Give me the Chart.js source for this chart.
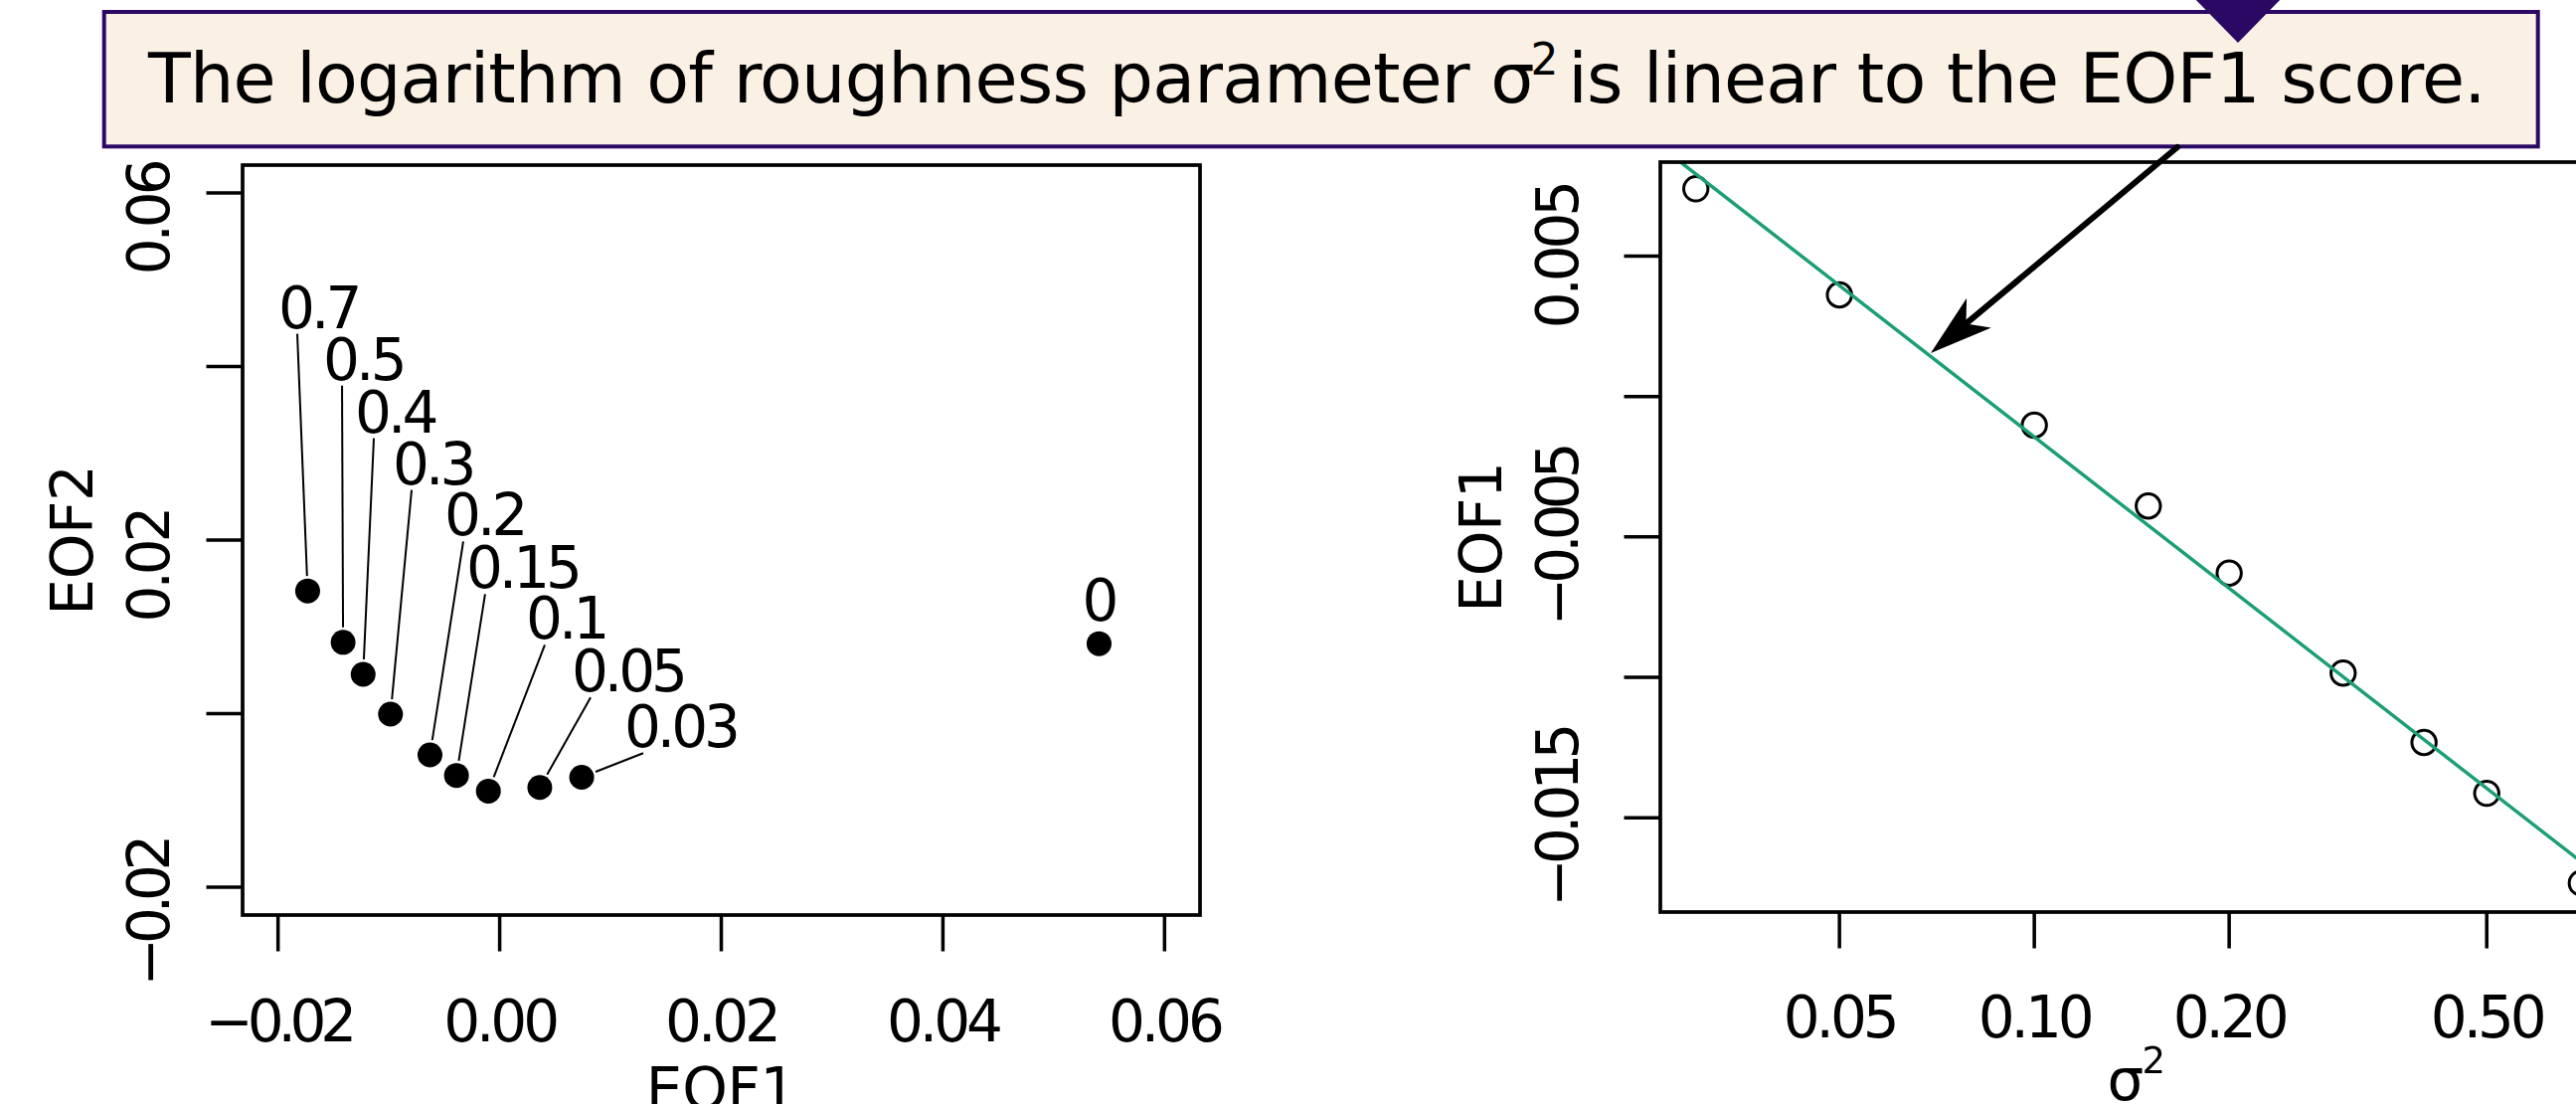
<!DOCTYPE html>
<html>
<head>
<meta charset="utf-8">
<script src="https://cdn.jsdelivr.net/npm/chart.js@4.4.1/dist/chart.umd.min.js"></script>
<style>
  html, body { margin: 0; padding: 0; background: #ffffff; overflow: hidden; width: 2591px; height: 1110px; }
  #left { position: absolute; left: 0; top: 0; }
  #right { position: absolute; left: 1300px; top: 0; }
  #overlay { position: absolute; left: 0; top: 0; pointer-events: none; }
</style>
</head>
<body>
<canvas id="left" width="1300" height="1110"></canvas>
<canvas id="right" width="1400" height="1110"></canvas>
<svg id="overlay" width="2591" height="1110" xmlns="http://www.w3.org/2000/svg">
  <rect x="104.7" y="12" width="2448" height="135.3" fill="#FBF0E4" stroke="#2A0864" stroke-width="4"/>
  <polygon points="2201,-8 2301,-8 2251,43" fill="#2A0864"/>
  <text font-family="DejaVu Sans" fill="#000000" style="letter-spacing:-0.8px">
    <tspan x="149" y="103" font-size="70">The logarithm of roughness parameter σ</tspan><tspan x="1539.6" y="75" font-size="44">2</tspan><tspan x="1555.9" y="103" font-size="70"> is linear to the EOF1 score.</tspan>
  </text>
  <line x1="2190" y1="148" x2="1977.5" y2="325.4" stroke="#000000" stroke-width="6" stroke-linecap="round"/>
  <polygon points="1942,355 2002.8,329.4 1977.5,325.4 1978.1,299.7" fill="#000000"/>
</svg>
<script>
// ---------------- data ----------------
const sigma2      = [0, 0.03, 0.05, 0.1, 0.15, 0.2, 0.3, 0.4, 0.5, 0.7];
const sigmaLabels = ['0', '0.03', '0.05', '0.1', '0.15', '0.2', '0.3', '0.4', '0.5', '0.7'];
const eof1 = [0.05409, 0.00740, 0.00362, -0.00102, -0.00390, -0.00629, -0.00985, -0.01232, -0.01413, -0.01733];
const eof2 = [0.00806, -0.00733, -0.00850, -0.00892, -0.00712, -0.00475, -0.00005, 0.00453, 0.00822, 0.01414];
// label anchor positions (text origin, baseline) in data units of the left panel
const labelEof1 = [0.05257, 0.01125, 0.00650, 0.00237, -0.00302, -0.00499, -0.00965, -0.01306, -0.01593, -0.01997];
const labelEof2 = [0.01068, -0.00386, 0.00255, 0.00862, 0.01445, 0.02052, 0.02647, 0.03242, 0.03849, 0.04445];
const hasLeader = [false, true, true, true, true, true, true, true, true, true];

// fitted line on the right panel
const fitSigma2 = [0.0264, 0.794];
const fitEof1   = [0.00892, -0.01755];

// axes
const leftXTicks = [-0.02, 0, 0.02, 0.04, 0.06];
const leftXTickLabels = ['−0.02', '0.00', '0.02', '0.04', '0.06'];
const leftYTicks = [-0.02, 0, 0.02, 0.04, 0.06];
const leftYTickLabels = ['−0.02', '', '0.02', '', '0.06'];
const rightXTicks = [0.05, 0.1, 0.2, 0.5];
const rightXTickLabels = ['0.05', '0.10', '0.20', '0.50'];
const rightYTicks = [-0.015, -0.01, -0.005, 0, 0.005];
const rightYTickLabels = ['−0.015', '', '−0.005', '', '0.005'];

// ---------------- helpers ----------------
const FONT = '"DejaVu Sans"';
function drawSpaced(ctx, str, size, x, y, align, rot) {
  ctx.save();
  ctx.font = size + 'px "Liberation Sans"';
  const target = ctx.measureText(str).width;
  ctx.font = size + 'px ' + FONT;
  const natural = ctx.measureText(str).width;
  if ('letterSpacing' in ctx) ctx.letterSpacing = ((target - natural) / str.length).toFixed(2) + 'px';
  ctx.translate(x, y);
  if (rot) ctx.rotate(rot);
  ctx.textAlign = 'left';
  ctx.textBaseline = 'alphabetic';
  ctx.fillStyle = '#000';
  const sx = align === 'center' ? -target / 2 : (align === 'right' ? -target : 0);
  ctx.fillText(str, sx, 0);
  ctx.restore();
}

const rAxes = {
  id: 'rAxes',
  afterDraw(chart, args, o) {
    const ctx = chart.ctx, a = chart.chartArea;
    const xs = chart.scales.x, ys = chart.scales.y;
    ctx.save();
    ctx.strokeStyle = '#000';
    ctx.lineWidth = o.frameWidth;
    ctx.strokeRect(a.left, a.top, a.right - a.left, a.bottom - a.top);
    ctx.lineWidth = o.tickWidth;
    ctx.beginPath();
    o.xTicks.forEach(v => { const p = xs.getPixelForValue(v); ctx.moveTo(p, a.bottom); ctx.lineTo(p, a.bottom + o.tickLen); });
    o.yTicks.forEach(v => { const p = ys.getPixelForValue(v); ctx.moveTo(a.left, p); ctx.lineTo(a.left - o.tickLen, p); });
    ctx.stroke();
    ctx.restore();
    o.xTicks.forEach((v, i) => {
      if (o.xTickLabels[i]) drawSpaced(ctx, o.xTickLabels[i], o.fontSize, xs.getPixelForValue(v), a.bottom + o.xLabelOffset, 'center', 0);
    });
    o.yTicks.forEach((v, i) => {
      if (o.yTickLabels[i]) drawSpaced(ctx, o.yTickLabels[i], o.fontSize, o.yLabelBaseX, ys.getPixelForValue(v) + o.yLabelShift, 'center', -Math.PI / 2);
    });
    const cx = (a.left + a.right) / 2, cy = (a.top + a.bottom) / 2;
    if (o.xTitleSup) {
      ctx.save();
      ctx.fillStyle = '#000';
      ctx.textAlign = 'left';
      ctx.textBaseline = 'alphabetic';
      ctx.font = o.fontSize + 'px ' + FONT;
      ctx.fillText(o.xTitle, cx - 31.5, o.xTitleBaseline);
      ctx.font = o.supSize + 'px ' + FONT;
      ctx.fillText(o.xTitleSup, cx + 3.4, o.xTitleBaseline - 27);
      ctx.restore();
    } else {
      drawSpaced(ctx, o.xTitle, o.fontSize, cx, o.xTitleBaseline, 'center', 0);
    }
    drawSpaced(ctx, o.yTitle, o.fontSize, o.yTitleBaseX, cy, 'center', -Math.PI / 2);
  }
};

const pointLabels = {
  id: 'pointLabels',
  afterDatasetsDraw(chart, args, o) {
    if (!o.show) return;
    const ctx = chart.ctx, xs = chart.scales.x, ys = chart.scales.y;
    ctx.save();
    ctx.strokeStyle = '#000';
    ctx.lineWidth = 2;
    sigmaLabels.forEach((t, i) => {
      const ox = xs.getPixelForValue(labelEof1[i]), oy = ys.getPixelForValue(labelEof2[i]);
      if (hasLeader[i]) {
        const sx = ox + 19, sy = oy + 6;
        const px = xs.getPixelForValue(eof1[i]), py = ys.getPixelForValue(eof2[i]);
        const dx = sx - px, dy = sy - py, d = Math.hypot(dx, dy);
        const ex = px + dx / d * 15, ey = py + dy / d * 15;
        ctx.beginPath(); ctx.moveTo(sx, sy); ctx.lineTo(ex, ey); ctx.stroke();
      }
    });
    ctx.restore();
    sigmaLabels.forEach((t, i) => {
      drawSpaced(ctx, t, o.fontSize, xs.getPixelForValue(labelEof1[i]), ys.getPixelForValue(labelEof2[i]), 'left', 0);
    });
  }
};

const common = { frameWidth: 3.7, tickWidth: 3.5, tickLen: 36.5, fontSize: 58 };

new Chart(document.getElementById('left'), {
  type: 'scatter',
  data: {
    datasets: [{
      data: eof1.map((x, i) => ({ x: x, y: eof2[i] })),
      pointRadius: 12.5, pointHoverRadius: 12.5,
      backgroundColor: '#000', borderWidth: 0, pointStyle: 'circle'
    }]
  },
  options: {
    responsive: false, animation: false, events: [],
    layout: { padding: { left: 244, top: 166, right: 93, bottom: 190 } },
    plugins: {
      legend: { display: false }, tooltip: { enabled: false },
      rAxes: Object.assign({}, common, {
        xTicks: leftXTicks, xTickLabels: leftXTickLabels,
        yTicks: leftYTicks, yTickLabels: leftYTickLabels,
        yLabelBaseX: 170, yLabelShift: 26, xLabelOffset: 126.5,
        xTitle: 'EOF1', xTitleBaseline: 1115, yTitle: 'EOF2', yTitleBaseX: 93
      }),
      pointLabels: { show: true, fontSize: 58 }
    },
    scales: {
      x: { type: 'linear', display: false, min: -0.0232, max: 0.0632 },
      y: { type: 'linear', display: false, min: -0.0232, max: 0.0632 }
    }
  },
  plugins: [rAxes, pointLabels]
});

new Chart(document.getElementById('right'), {
  type: 'scatter',
  data: {
    datasets: [
      {
        data: fitSigma2.map((x, i) => ({ x: x, y: fitEof1[i] })),
        showLine: true, borderColor: '#1B9E77', borderWidth: 3.5, pointRadius: 0, pointHoverRadius: 0, fill: false
      },
      {
        data: sigma2.map((x, i) => ({ x: x, y: eof1[i] })).filter(p => p.x > 0),
        pointRadius: 12.2, pointHoverRadius: 12.2, borderColor: '#000', borderWidth: 3,
        backgroundColor: 'rgba(0,0,0,0)', pointStyle: 'circle'
      }
    ]
  },
  options: {
    responsive: false, animation: false, events: [],
    layout: { padding: { left: 370, top: 163, right: 68, bottom: 193 } },
    plugins: {
      legend: { display: false }, tooltip: { enabled: false },
      rAxes: Object.assign({}, common, {
        xTicks: rightXTicks, xTickLabels: rightXTickLabels,
        yTicks: rightYTicks, yTickLabels: rightYTickLabels,
        yLabelBaseX: 287, yLabelShift: 0, xLabelOffset: 126,
        xTitle: 'σ', xTitleSup: '2', supSize: 37, xTitleBaseline: 1106, yTitle: 'EOF1', yTitleBaseX: 210
      }),
      pointLabels: { show: false }
    },
    scales: {
      x: { type: 'logarithmic', display: false, min: 0.02644, max: 0.794 },
      y: { type: 'linear', display: false, min: -0.01836, max: 0.00835 }
    }
  },
  plugins: [rAxes, pointLabels]
});
</script>
</body>
</html>
